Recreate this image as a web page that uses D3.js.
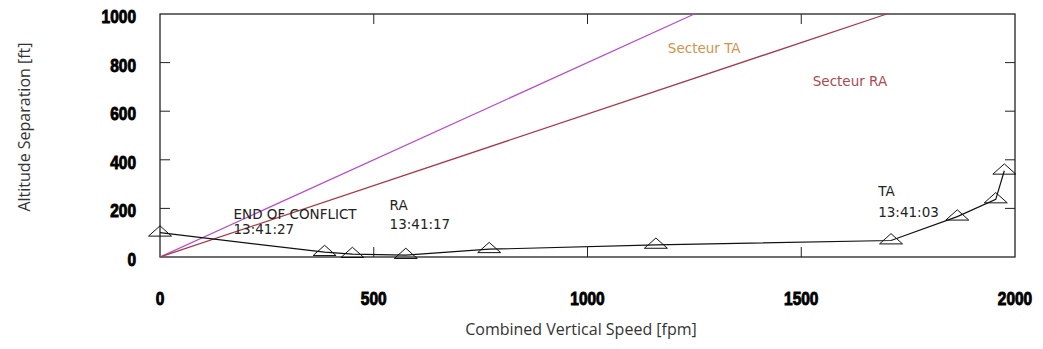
<!DOCTYPE html>
<html>
<head>
<meta charset="utf-8">
<script src="https://cdn.jsdelivr.net/npm/d3@7"></script>
<style>
  body { margin: 0; background: #fff; }
  .tick-label { font-family: "Liberation Sans", Arial, sans-serif; font-weight: bold; font-size: 18px; fill: #000; stroke: #000; stroke-width: 0.9px; }
  .axis-title { font-family: "Open Sans", sans-serif; font-size: 16px; fill: #333; }
  .note { font-family: "DejaVu Sans", Verdana, sans-serif; font-size: 13.5px; fill: #222; }
</style>
</head>
<body>
<div id="chart"></div>
<script>
// combined vertical speed (fpm) vs altitude separation (ft)
const speeds = [0, 385, 450, 575, 770, 1160, 1710, 1865, 1955, 1975];
const separations = [100, 20, 12, 8, 32, 50, 68, 166, 237, 355];

// sector boundaries
const taSector = [[0, 0], [1250, 1000]];
const raSector = [[0, 0], [1700, 1000]];

const xTicks = [0, 500, 1000, 1500, 2000];
const yTicks = [0, 200, 400, 600, 800, 1000];

const notes = [
  { x: 172, y: 155, gap: 15, lines: ['END OF CONFLICT', '13:41:27'] },
  { x: 537, y: 195, gap: 19, lines: ['RA', '13:41:17'] },
  { x: 1680, y: 250, gap: 21, lines: ['TA', '13:41:03'] }
];

const width = 1043, height = 349;
const margin = { top: 14, right: 28, bottom: 92, left: 160 };

const svg = d3.select('#chart').append('svg')
  .attr('width', width)
  .attr('height', height);

const x = d3.scaleLinear().domain([0, 2000]).range([margin.left, width - margin.right]);
const y = d3.scaleLinear().domain([0, 1000]).range([height - margin.bottom, margin.top]);

// Frame
svg.append('rect')
  .attr('x', x(0)).attr('y', y(1000))
  .attr('width', x(2000) - x(0)).attr('height', y(0) - y(1000))
  .attr('fill', 'none').attr('stroke', '#222').attr('stroke-width', 1.3);

const tickLen = 10;
const innerX = xTicks.slice(1, -1);
const innerY = yTicks.slice(1, -1);

// inward ticks on all four sides
svg.append('g').selectAll('line').data(innerX).join('line')
  .attr('x1', d => x(d)).attr('x2', d => x(d))
  .attr('y1', y(0)).attr('y2', y(0) - tickLen)
  .attr('stroke', '#222');
svg.append('g').selectAll('line').data(innerX).join('line')
  .attr('x1', d => x(d)).attr('x2', d => x(d))
  .attr('y1', y(1000)).attr('y2', y(1000) + tickLen)
  .attr('stroke', '#222');
svg.append('g').selectAll('line').data(innerY).join('line')
  .attr('x1', x(0)).attr('x2', x(0) + tickLen)
  .attr('y1', d => y(d)).attr('y2', d => y(d))
  .attr('stroke', '#222');
svg.append('g').selectAll('line').data(innerY).join('line')
  .attr('x1', x(2000)).attr('x2', x(2000) - tickLen)
  .attr('y1', d => y(d)).attr('y2', d => y(d))
  .attr('stroke', '#222');

// Tick labels (squeezed horizontally, the original uses a condensed bold face)
svg.append('g').selectAll('text').data(xTicks).join('text')
  .attr('class', 'tick-label')
  .attr('transform', d => `translate(${x(d)},305) scale(0.86,1)`)
  .attr('text-anchor', 'middle')
  .text(d => d);
svg.append('g').selectAll('text').data(yTicks).join('text')
  .attr('class', 'tick-label')
  .attr('transform', d => `translate(136,${y(d) + 9}) scale(0.86,1)`)
  .attr('text-anchor', 'end')
  .text(d => d);

// Axis titles
svg.append('text')
  .attr('class', 'axis-title')
  .attr('x', 581).attr('y', 335)
  .attr('text-anchor', 'middle')
  .text('Combined Vertical Speed [fpm]');
svg.append('text')
  .attr('class', 'axis-title')
  .attr('transform', 'translate(30,127) rotate(-90)')
  .attr('text-anchor', 'middle')
  .text('Altitude Separation [ft]');

// Sector lines
const line = d3.line().x(d => x(d[0])).y(d => y(d[1]));
svg.append('path').datum(taSector)
  .attr('d', line).attr('fill', 'none')
  .attr('stroke', '#b84ccc').attr('stroke-width', 1.3);
svg.append('path').datum(raSector)
  .attr('d', line).attr('fill', 'none')
  .attr('stroke', '#a83848').attr('stroke-width', 1.3);

svg.append('text').attr('class', 'note')
  .attr('x', x(1188)).attr('y', y(839))
  .style('fill', '#d4924c')
  .text('Secteur TA');
svg.append('text').attr('class', 'note')
  .attr('x', x(1527)).attr('y', y(703))
  .style('fill', '#a84a50')
  .text('Secteur RA');

// Trajectory
const pts = speeds.map((s, i) => [s, separations[i]]);
svg.append('path').datum(pts)
  .attr('d', line).attr('fill', 'none')
  .attr('stroke', '#111').attr('stroke-width', 1.2);

const tri = d3.symbol().type(d3.symbolTriangle).size(95);
svg.append('g').selectAll('path').data(pts).join('path')
  .attr('transform', d => `translate(${x(d[0])},${y(d[1])}) scale(1.55,0.8)`)
  .attr('d', tri)
  .attr('fill', 'none')
  .attr('stroke', '#111')
  .attr('stroke-width', 1)
  .attr('vector-effect', 'non-scaling-stroke');

// Event notes
const noteG = svg.append('g').selectAll('text').data(notes).join('text')
  .attr('class', 'note');
noteG.selectAll('tspan').data(d => d.lines.map((t, i) => ({ t, i, d }))).join('tspan')
  .attr('x', d => x(d.d.x))
  .attr('y', d => y(d.d.y) + d.i * d.d.gap)
  .text(d => d.t);
</script>
</body>
</html>
